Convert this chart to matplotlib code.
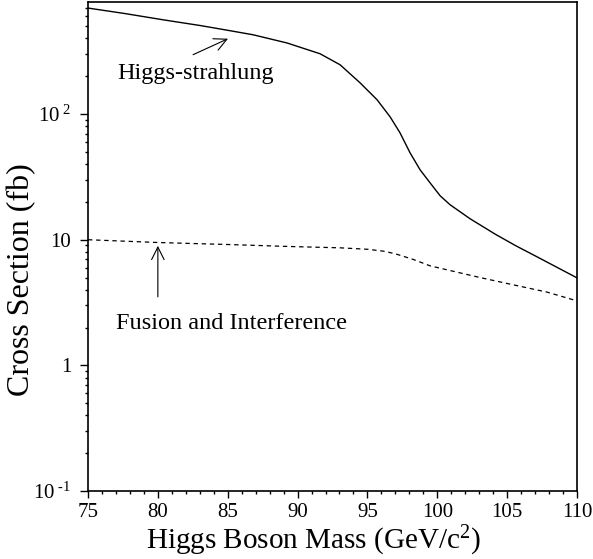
import numpy as np
import matplotlib
matplotlib.use("Agg")
import matplotlib.pyplot as plt
from matplotlib.ticker import FixedLocator, FixedFormatter, LogLocator, MultipleLocator, NullFormatter

plt.rcParams['font.family'] = ['Liberation Serif', 'DejaVu Serif']
plt.rcParams['mathtext.fontset'] = 'custom'
plt.rcParams['mathtext.rm'] = 'Liberation Serif'
plt.rcParams['mathtext.it'] = 'Liberation Serif:italic'

# Higgs-strahlung (solid)
hs_mass = [75.00, 77.65, 80.37, 83.02, 84.45, 86.81, 89.25, 91.61, 93.04, 94.47,
           95.69, 96.62, 97.33, 98.05, 98.77, 99.48, 100.20, 100.91, 101.63,
           102.34, 104.13, 105.63, 107.14, 110.00]
hs_sigma = [698, 631, 563, 507, 476, 428, 368, 302, 247, 177.5,
            130, 95.2, 71.0, 49.2, 36.0, 28.4, 22.4, 19.0, 16.7,
            14.7, 11.1, 8.94, 7.31, 4.97]

# Fusion and interference (dashed)
fu_mass = [75.00, 80.01, 85.02, 89.46, 93.04, 95.04, 96.26, 97.12, 98.26,
           99.48, 100.70, 103.06, 105.42, 107.85, 110.00]
fu_sigma = [10.0, 9.50, 9.16, 8.83, 8.62, 8.39, 8.08, 7.65, 6.98,
            6.20, 5.76, 5.00, 4.38, 3.83, 3.26]

x_ticks = [75, 80, 85, 90, 95, 100, 105, 110]
y_ticks = [0.1, 1, 10, 100]
y_tick_labels = [r'$\mathregular{10^{\,\,\text{-1}}}$', '1', '10', r'$\mathregular{10^{\,\,2}}$']

fig = plt.figure(figsize=(5.93, 5.59), dpi=100)
ax = fig.add_axes([88/593, 68/559, 489/593, 489/559])

ax.plot(hs_mass, hs_sigma, color='black', lw=1.0)
ax.plot(fu_mass, fu_sigma, color='black', lw=0.9, linestyle=(0, (3.5, 3)))

ax.set_yscale('log')
ax.set_xlim(75, 110)
ax.set_ylim(0.1, 780)

ax.xaxis.set_major_locator(FixedLocator(x_ticks))
ax.xaxis.set_minor_locator(MultipleLocator(1))
ax.yaxis.set_major_locator(FixedLocator(y_ticks))
ax.yaxis.set_major_formatter(FixedFormatter(y_tick_labels))
ax.yaxis.set_minor_locator(LogLocator(base=10, subs=np.arange(2, 10)))
ax.yaxis.set_minor_formatter(NullFormatter())

ax.tick_params(axis='both', which='both', direction='out', top=False, right=False,
               width=1.0, labelsize=15)
ax.tick_params(axis='x', which='major', length=5, pad=3.5)
ax.tick_params(axis='x', which='minor', length=2.5)
ax.tick_params(axis='y', which='major', length=6, pad=6)
ax.tick_params(axis='y', which='minor', length=2.2)
for s in ax.spines.values():
    s.set_linewidth(1.2)

fig.text(22/593, 1 - 280/559, 'Cross Section (fb)', rotation=90,
         ha='center', va='center', fontsize=23)
fig.text(313/593, 1 - 549/559, r'Higgs Boson Mass (GeV/c$^{\mathregular{2}}$)',
         ha='center', va='baseline', fontsize=21)

arrow = dict(arrowstyle='->,head_length=0.6,head_width=0.3', lw=0.8,
             color='black', shrinkA=0, shrinkB=0, mutation_scale=15)
ax.annotate('', xy=(85.02, 398), xytext=(82.52, 297), arrowprops=arrow)
ax.annotate('', xy=(80.0, 8.94), xytext=(80.0, 3.51), arrowprops=arrow)
ax.text(77.08, 191, 'Higgs-strahlung', fontsize=17.5, va='baseline', ha='left')
ax.text(77.0, 1.945, 'Fusion and Interference', fontsize=17.5, va='baseline', ha='left')

fig.savefig('out.png', dpi=100)
